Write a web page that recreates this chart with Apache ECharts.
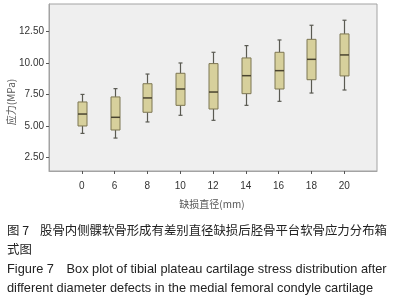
<!DOCTYPE html>
<html>
<head>
<meta charset="utf-8">
<script src="https://cdn.jsdelivr.net/npm/echarts@6/dist/echarts.min.js"></script>
<style>
body { margin: 0; background: #fff; }
#main { width: 397px; height: 300px; }
</style>
</head>
<body>
<div id="main"></div>
<script>
// 缺损直径 (mm)
var categories = ['0', '6', '8', '10', '12', '14', '16', '18', '20'];
// 每组: 最小值, 下四分位, 中位数, 上四分位, 最大值 (MPa)
var mins    = [4.40, 4.03, 5.31, 5.84, 5.44, 6.63, 6.95, 7.61, 7.85];
var q1s     = [4.99, 4.67, 6.08, 6.63, 6.34, 7.56, 7.93, 8.67, 8.97];
var medians = [5.94, 5.68, 7.22, 7.93, 7.69, 8.99, 9.39, 10.29, 10.64];
var q3s     = [6.90, 7.30, 8.35, 9.18, 9.95, 10.40, 10.85, 11.88, 12.31];
var maxs    = [7.50, 7.96, 9.12, 10.00, 10.85, 11.38, 11.83, 13.00, 13.40];
var yTicks  = [2.5, 5, 7.5, 10, 12.5];

var fontCN = '"Noto Sans CJK SC", sans-serif';
var fontEN = '"Liberation Sans", Arial, sans-serif';

// 两端留空类目, 让箱子离开边框
var xData = [''].concat(categories).concat(['']);
var boxData = [];
for (var i = 0; i < categories.length; i++) {
	boxData.push([i + 1, mins[i], q1s[i], medians[i], q3s[i], maxs[i]]);
}

function renderBox(params, api) {
	var x = api.value(0);
	var pMin = api.coord([x, api.value(1)]);
	var pQ1 = api.coord([x, api.value(2)]);
	var pMed = api.coord([x, api.value(3)]);
	var pQ3 = api.coord([x, api.value(4)]);
	var pMax = api.coord([x, api.value(5)]);
	var cx = Math.round(pMed[0]) + 0.5;
	var half = 4.5, cap = 2;
	var lineStyle = { stroke: '#5a5a52', lineWidth: 1.2 };
	return {
		type: 'group',
		children: [
			{ type: 'line', shape: { x1: cx, y1: pMax[1], x2: cx, y2: pQ3[1] }, style: lineStyle },
			{ type: 'line', shape: { x1: cx, y1: pQ1[1], x2: cx, y2: pMin[1] }, style: lineStyle },
			{ type: 'line', shape: { x1: cx - cap, y1: pMax[1], x2: cx + cap, y2: pMax[1] }, style: lineStyle },
			{ type: 'line', shape: { x1: cx - cap, y1: pMin[1], x2: cx + cap, y2: pMin[1] }, style: lineStyle },
			{ type: 'rect', shape: { x: cx - half, y: pQ3[1], width: half * 2, height: pQ1[1] - pQ3[1] },
				style: { fill: '#d7d09c', stroke: '#7d7652', lineWidth: 1 } },
			{ type: 'line', shape: { x1: cx - half, y1: pMed[1], x2: cx + half, y2: pMed[1] },
				style: { stroke: '#4a4430', lineWidth: 1.5 } }
		]
	};
}

var chart = echarts.init(document.getElementById('main'));
chart.setOption({
	animation: false,
	grid: {
		left: 49, top: 4, right: 20, bottom: 129,
		show: true, backgroundColor: '#efefef', borderColor: '#a3a3a3', borderWidth: 1
	},
	xAxis: {
		type: 'category',
		data: xData,
		boundaryGap: false,
		axisLine: { lineStyle: { color: '#a3a3a3', width: 1 } },
		axisTick: {
			length: 3,
			lineStyle: { color: '#555' },
			interval: function (index) { return index > 0 && index < xData.length - 1; }
		},
		axisLabel: { interval: 0, margin: 10, fontSize: 10, color: '#333', fontFamily: fontEN },
		splitLine: { show: false }
	},
	yAxis: {
		type: 'value',
		min: 1.41,
		max: 14.69,
		axisLine: { show: true, lineStyle: { color: '#a3a3a3', width: 1 } },
		axisTick: { show: true, length: 3, customValues: yTicks, lineStyle: { color: '#555' } },
		axisLabel: {
			customValues: yTicks, margin: 5, fontSize: 10, color: '#333', fontFamily: fontEN,
			formatter: function (v) { return v.toFixed(2); }
		},
		splitLine: { show: false }
	},
	series: [{
		type: 'custom',
		renderItem: renderBox,
		encode: { x: 0, y: [1, 2, 3, 4, 5] },
		data: boxData,
		z: 3
	}],
	graphic: [
		{ type: 'text', x: 11, y: 102, rotation: Math.PI / 2,
			style: { text: '应力(MPa)', fill: '#555', font: '10px ' + fontCN, align: 'center', verticalAlign: 'middle' } },
		{ type: 'text', x: 212, y: 204,
			style: { text: '缺损直径(mm)', fill: '#555', font: '10px ' + fontCN, align: 'center', verticalAlign: 'middle' } },
		{ type: 'text', x: 7, y: 230.5,
			style: { text: '图 7', fill: '#222', font: '12.4px ' + fontCN, verticalAlign: 'middle' } },
		{ type: 'text', x: 40, y: 230.5,
			style: { text: '股骨内侧髁软骨形成有差别直径缺损后胫骨平台软骨应力分布箱', fill: '#222', font: '12.4px ' + fontCN, verticalAlign: 'middle' } },
		{ type: 'text', x: 7, y: 249.5,
			style: { text: '式图', fill: '#222', font: '12.4px ' + fontCN, verticalAlign: 'middle' } },
		{ type: 'text', x: 7, y: 269,
			style: { text: 'Figure 7', fill: '#222', font: '12.8px ' + fontEN, verticalAlign: 'middle' } },
		{ type: 'text', x: 66.5, y: 269,
			style: { text: 'Box plot of tibial plateau cartilage stress distribution after', fill: '#222', font: '12.8px ' + fontEN, verticalAlign: 'middle' } },
		{ type: 'text', x: 7, y: 288,
			style: { text: 'different diameter defects in the medial femoral condyle cartilage', fill: '#222', font: '12.8px ' + fontEN, verticalAlign: 'middle' } }
	]
});
</script>
</body>
</html>
